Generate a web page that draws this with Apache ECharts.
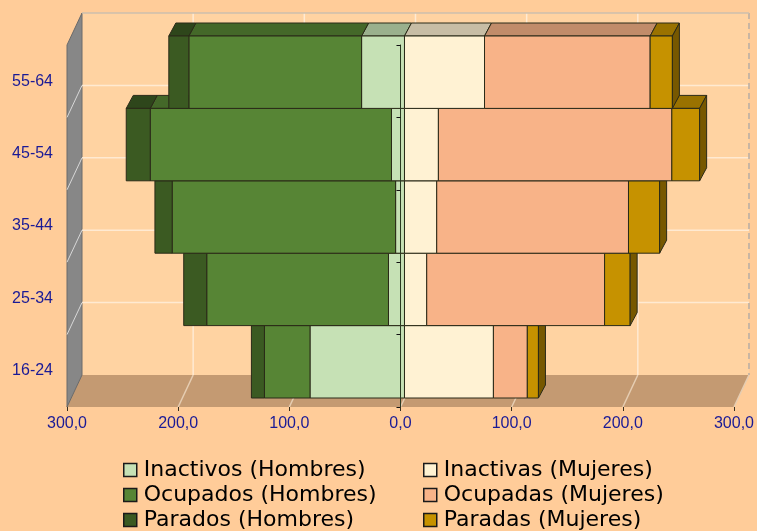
<!DOCTYPE html>
<html>
<head>
<meta charset="utf-8">
<script src="https://cdn.jsdelivr.net/npm/echarts@6/dist/echarts.min.js"></script>
<style>
  html, body { margin: 0; padding: 0; background: #FFCC99; }
  #chart { width: 757px; height: 531px; }
</style>
</head>
<body>
<div id="chart"></div>
<script>
// grupos de edad (de abajo a arriba)
const edades = ['16-24', '25-34', '35-44', '45-54', '55-64']
const xTicks = [-300, -200, -100, 0, 100, 200, 300]

// miles de personas
const inactivosH = [85, 14.4, 8, 11.7, 38.6]
const ocupadosH = [41, 163.5, 201, 217, 155.4]
const paradosH = [11.7, 20.7, 15.5, 21.6, 18]
const inactivasM = [80, 20, 29, 30.5, 72]
const ocupadasM = [30.5, 160, 172.5, 210, 149]
const paradasM = [10, 23, 28, 25, 20]

const FONT = 'Liberation Sans, Arial, sans-serif'
const LABEL_COLOR = '#1a1a96'

// offsets 3D (pixeles)
const FX = 4, FY = -9 // cara frontal de las barras
const DX = 7, DY = -13 // profundidad de las barras
const WX = 15, WY = -32 // pared de fondo

function shade (hex, f) {
  const n = parseInt(hex.slice(1), 16)
  const r = Math.round(((n >> 16) & 255) * f)
  const g = Math.round(((n >> 8) & 255) * f)
  const b = Math.round((n & 255) * f)
  return 'rgb(' + r + ',' + g + ',' + b + ')'
}

function boxSeries (name, values, prev, sign, color, withSide) {
  const data = values.map(function (v, i) {
    const start = prev.reduce(function (s, arr) { return s + arr[i] }, 0)
    return [sign * start, sign * (start + v), i]
  })
  return {
    name: name,
    type: 'custom',
    coordinateSystem: 'cartesian2d',
    itemStyle: { color: color },
    encode: { x: [0, 1], y: 2 },
    data: data,
    renderItem: function (params, api) {
      const row = api.value(2)
      const a = api.coord([api.value(0), row])
      const b = api.coord([api.value(1), row])
      const h = api.size([0, 1])[1]
      const x0 = Math.min(a[0], b[0]) + FX
      const x1 = Math.max(a[0], b[0]) + FX
      const y0 = a[1] - h / 2 + FY
      const y1 = a[1] + h / 2 + FY
      const stroke = '#2a2a18'
      const children = [
        {
          type: 'polygon',
          z2: row * 10,
          shape: { points: [[x0, y0], [x1, y0], [x1 + DX, y0 + DY], [x0 + DX, y0 + DY]] },
          style: { fill: shade(color, 0.78), stroke: stroke, lineWidth: 1 }
        },
        {
          type: 'rect',
          z2: row * 10 + 1,
          shape: { x: x0, y: y0, width: x1 - x0, height: y1 - y0 },
          style: { fill: color, stroke: stroke, lineWidth: 1 }
        }
      ]
      if (withSide) {
        children.push({
          type: 'polygon',
          z2: row * 10 + 1,
          shape: { points: [[x1, y0], [x1 + DX, y0 + DY], [x1 + DX, y1 + DY], [x1, y1]] },
          style: { fill: shade(color, 0.6), stroke: stroke, lineWidth: 1 }
        })
      }
      return { type: 'group', children: children }
    }
  }
}

const wallsSeries = {
  name: 'walls',
  type: 'custom',
  coordinateSystem: 'cartesian2d',
  silent: true,
  z: 1,
  encode: { x: 0, y: 1 },
  data: [[0, 0]],
  renderItem: function (params, api) {
    const pL = api.coord([xTicks[0], 0])
    const pR = api.coord([xTicks[xTicks.length - 1], edades.length - 1])
    const h = api.size([0, 1])[1]
    const left = pL[0], right = pR[0]
    const bottom = pL[1] + h / 2, top = pR[1] - h / 2
    const gridLine = '#ffead2'
    const ch = []
    // pared de fondo
    ch.push({ type: 'rect', shape: { x: left + WX, y: top + WY, width: right - left, height: bottom - top }, style: { fill: '#FFD3A2' } })
    // suelo
    ch.push({ type: 'polygon', shape: { points: [[left, bottom], [right, bottom], [right + WX, bottom + WY], [left + WX, bottom + WY]] }, style: { fill: '#C49A72' } })
    // pared izquierda
    ch.push({ type: 'polygon', shape: { points: [[left, top], [left + WX, top + WY], [left + WX, bottom + WY], [left, bottom]] }, style: { fill: '#878787', stroke: '#6a6a6a', lineWidth: 1 } })
    // lineas horizontales
    for (let k = 1; k < edades.length; k++) {
      const y = bottom - k * h
      ch.push({ type: 'line', shape: { x1: left + WX, y1: y + WY, x2: right + WX, y2: y + WY }, style: { stroke: gridLine, lineWidth: 1.5 } })
      ch.push({ type: 'line', shape: { x1: left, y1: y, x2: left + WX, y2: y + WY }, style: { stroke: '#d8d8d8', lineWidth: 1 } })
    }
    // lineas verticales
    xTicks.forEach(function (v, i) {
      const x = api.coord([v, 0])[0]
      if (i > 0) {
        const last = i === xTicks.length - 1
        ch.push({ type: 'line', shape: { x1: x + WX, y1: top + WY, x2: x + WX, y2: bottom + WY }, style: { stroke: last ? '#b8aea4' : gridLine, lineWidth: 1.5, lineDash: last ? [6, 4] : null } })
        ch.push({ type: 'line', shape: { x1: x, y1: bottom, x2: x + WX, y2: bottom + WY }, style: { stroke: '#e6cdb2', lineWidth: 1.5 } })
      }
    })
    // borde superior
    ch.push({ type: 'line', shape: { x1: left + WX, y1: top + WY, x2: right + WX, y2: top + WY }, style: { stroke: '#cdbfae', lineWidth: 1.5 } })
    return { type: 'group', children: ch }
  }
}

const COLORS = {
  inactivosH: '#C6E1B5',
  ocupadosH: '#578535',
  paradosH: '#3B5A22',
  inactivasM: '#FFF2D3',
  ocupadasM: '#F8B388',
  paradasM: '#C69200'
}

// una leyenda por entrada, en dos columnas
function legendItem (name, color, left, top) {
  return {
    left: left,
    top: top,
    padding: 0,
    itemWidth: 13,
    itemHeight: 13,
    icon: 'rect',
    selectedMode: false,
    textStyle: { fontSize: 22, lineHeight: 21, color: '#000', fontFamily: 'DejaVu Sans, sans-serif', padding: [0, 0, 0, 2] },
    data: [{ name: name, itemStyle: { color: color, borderColor: '#1a1a1a', borderWidth: 1.5 } }]
  }
}

const chart = echarts.init(document.getElementById('chart'))
chart.setOption({
  backgroundColor: '#FFCC99',
  animation: false,
  grid: { left: 67, right: 22, top: 45, bottom: 124 },
  legend: [
    legendItem('Inactivos (Hombres)', COLORS.inactivosH, 123, 459),
    legendItem('Ocupados (Hombres)', COLORS.ocupadosH, 123, 484),
    legendItem('Parados (Hombres)', COLORS.paradosH, 123, 509),
    legendItem('Inactivas (Mujeres)', COLORS.inactivasM, 423, 459),
    legendItem('Ocupadas (Mujeres)', COLORS.ocupadasM, 423, 484),
    legendItem('Paradas (Mujeres)', COLORS.paradasM, 423, 509)
  ],
  xAxis: {
    type: 'value',
    min: -300,
    max: 300,
    interval: 100,
    z: 10,
    axisLine: { onZero: false, lineStyle: { color: '#3a3020', width: 1.5 } },
    axisTick: { show: true, length: 4, lineStyle: { color: '#3a3020' } },
    splitLine: { show: false },
    axisLabel: {
      margin: 9,
      fontSize: 16,
      fontFamily: FONT,
      color: LABEL_COLOR,
      formatter: function (v) { return Math.abs(v).toFixed(1).replace('.', ',') }
    }
  },
  yAxis: [
    {
      type: 'category',
      data: edades,
      axisLine: { show: false, onZero: false },
      axisTick: { show: false },
      axisLabel: { margin: 14, fontSize: 16, fontFamily: FONT, color: LABEL_COLOR }
    },
    {
      type: 'category',
      data: edades,
      position: 'left',
      z: 10,
      axisLine: { onZero: true, lineStyle: { color: '#2c3a22', width: 1 } },
      axisTick: { show: true, length: 4, lineStyle: { color: '#111' } },
      axisLabel: { show: false }
    }
  ],
  series: [
    wallsSeries,
    boxSeries('Inactivos (Hombres)', inactivosH, [], -1, COLORS.inactivosH, false),
    boxSeries('Ocupados (Hombres)', ocupadosH, [inactivosH], -1, COLORS.ocupadosH, false),
    boxSeries('Parados (Hombres)', paradosH, [inactivosH, ocupadosH], -1, COLORS.paradosH, false),
    boxSeries('Inactivas (Mujeres)', inactivasM, [], 1, COLORS.inactivasM, false),
    boxSeries('Ocupadas (Mujeres)', ocupadasM, [inactivasM], 1, COLORS.ocupadasM, false),
    boxSeries('Paradas (Mujeres)', paradasM, [inactivasM, ocupadasM], 1, COLORS.paradasM, true)
  ]
})
</script>
</body>
</html>
